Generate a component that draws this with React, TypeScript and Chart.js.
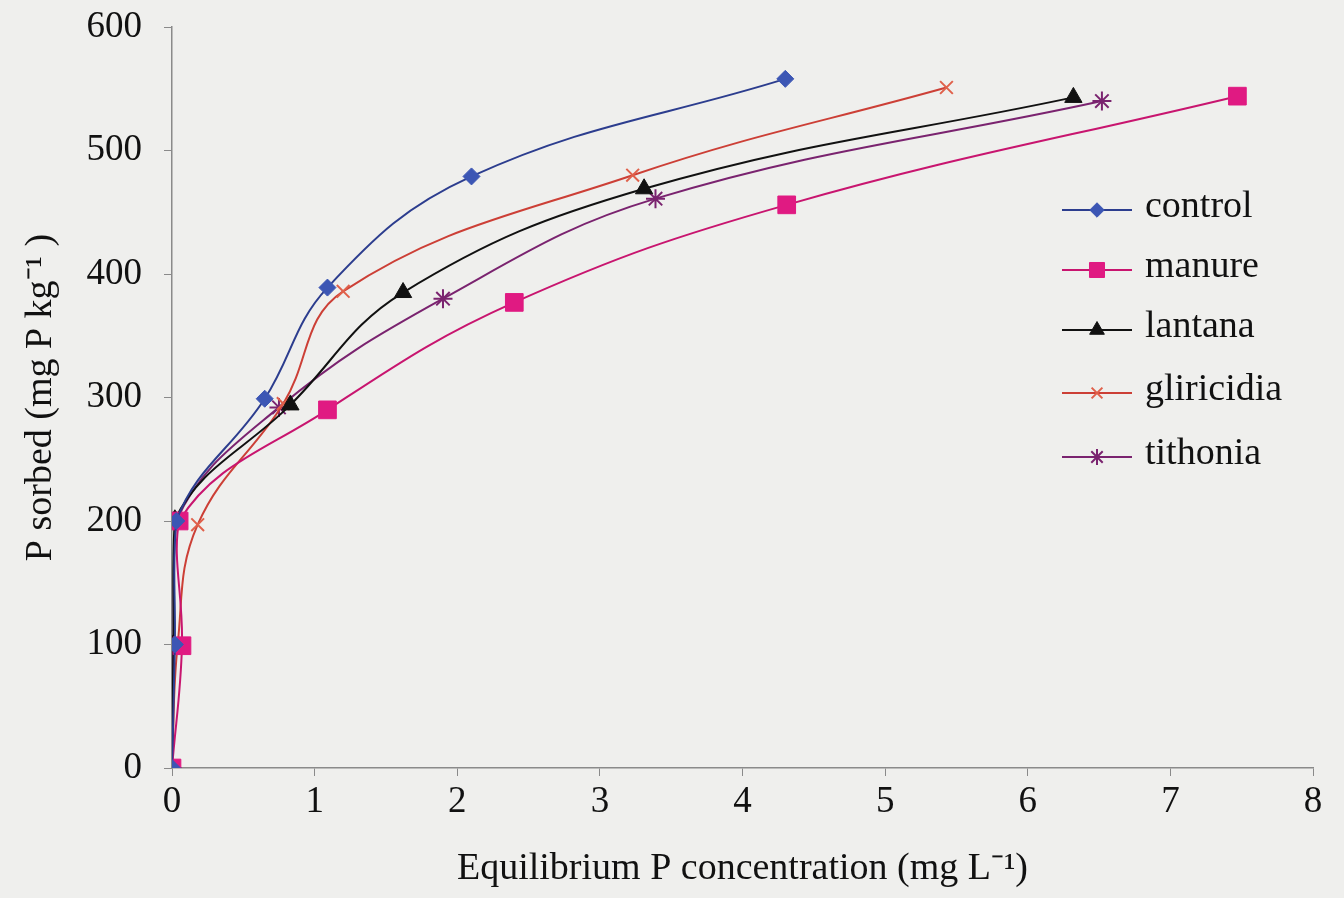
import React, { useEffect, useRef } from "react";
import { Chart, registerables } from "chart.js";
import { drawPoint } from "chart.js/helpers";

Chart.register(...registerables);

const seriesNames = ["control", "manure", "lantana", "gliricidia", "tithonia"];

const controlX = [0, 0.02, 0.03, 0.65, 1.09, 2.1, 4.3];
const controlY = [0, 100, 200, 299, 389, 479, 558];
const manureX = [0, 0.07, 0.05, 1.09, 2.4, 4.31, 7.47];
const manureY = [0, 99, 200, 290, 377, 456, 544];
const lantanaX = [0, 0.01, 0.02, 0.83, 1.62, 3.31, 6.32];
const lantanaY = [0, 100, 201, 294, 385, 469, 543];
const gliricidiaX = [0, 0.04, 0.18, 0.78, 1.2, 3.23, 5.43];
const gliricidiaY = [0, 100, 197, 295, 386, 480, 551];
const tithoniaX = [0, 0.01, 0.03, 0.75, 1.9, 3.39, 6.52];
const tithoniaY = [0, 100, 200, 292, 380, 461, 540];

const xTicks = [0, 1, 2, 3, 4, 5, 6, 7, 8];
const yTicks = [0, 100, 200, 300, 400, 500, 600];

const FONT = "'Liberation Serif', 'Times New Roman', serif";

const zip = (xs: number[], ys: number[]) => xs.map((x, i) => ({ x, y: ys[i] }));

const styles = [
  { line: "#2c3d8e", fill: "#3c56b4", point: "rectRot", r: 8.5 },
  { line: "#c8156f", fill: "#e01a82", point: "rect", r: 12.5 },
  { line: "#111111", fill: "#111111", point: "triangle", r: 10 },
  { line: "#cc3f36", fill: "#e0604a", point: "crossRot", r: 9 },
  { line: "#7a236f", fill: "#7a236f", point: "star", r: 9.5 },
];

const legendPlugin = {
  id: "customLegend",
  afterDraw(chart: any) {
    const ctx = chart.ctx;
    const rows = [210, 270, 330, 393, 457];
    ctx.save();
    chart.data.datasets.forEach((ds: any, i: number) => {
      const y = rows[i];
      ctx.strokeStyle = ds.borderColor;
      ctx.lineWidth = 2;
      ctx.beginPath();
      ctx.moveTo(1062, y);
      ctx.lineTo(1132, y);
      ctx.stroke();
      ctx.fillStyle = ds.pointBackgroundColor;
      ctx.strokeStyle = ds.pointBorderColor;
      ctx.lineWidth = ds.pointBorderWidth;
      drawPoint(ctx, { pointStyle: ds.pointStyle, radius: ds.pointRadius * 0.85, borderWidth: ds.pointBorderWidth, rotation: 0 }, 1097, y);
      ctx.fillStyle = "#111";
      ctx.font = `38px ${FONT}`;
      ctx.textBaseline = "middle";
      ctx.textAlign = "left";
      ctx.fillText(ds.label, 1145, y - 3);
    });
    ctx.restore();
  },
};

export default function App() {
  const ref = useRef<HTMLCanvasElement>(null);
  useEffect(() => {
    if (!ref.current) return;
    const xs = [controlX, manureX, lantanaX, gliricidiaX, tithoniaX];
    const ys = [controlY, manureY, lantanaY, gliricidiaY, tithoniaY];
    const datasets = seriesNames.map((name, i) => ({
      label: name,
      data: zip(xs[i], ys[i]),
      showLine: true,
      tension: 0.4,
      borderColor: styles[i].line,
      borderWidth: 2,
      pointStyle: styles[i].point,
      pointRadius: styles[i].r,
      pointBackgroundColor: styles[i].fill,
      pointBorderColor: styles[i].fill,
      pointBorderWidth: i >= 3 ? 2 : 1,
    }));
    const chart = new Chart(ref.current, {
      type: "scatter",
      data: { datasets },
      options: {
        animation: false,
        responsive: false,
        maintainAspectRatio: false,
        layout: { padding: { top: 27, right: 31, left: 0, bottom: 0 } },
        plugins: { legend: { display: false }, tooltip: { enabled: false } },
        scales: {
          x: {
            type: "linear",
            min: 0,
            max: 8,
            afterBuildTicks: (s: any) => { s.ticks = xTicks.map((v) => ({ value: v })); },
            afterFit: (s: any) => { s.height = 130; s.paddingLeft = 0; s.paddingRight = 0; },
            border: { display: true, color: "#8a8a8a", width: 1.5 },
            grid: { display: true, drawOnChartArea: false, drawTicks: true, tickLength: 8, color: "#8a8a8a" },
            ticks: { color: "#111", font: { family: FONT, size: 37 }, padding: 4, maxRotation: 0 },
            title: {
              display: true,
              text: "Equilibrium P concentration (mg L⁻¹)",
              color: "#111",
              font: { family: FONT, size: 38 },
              padding: { top: 0, bottom: 6 },
            },
          },
          y: {
            type: "linear",
            min: 0,
            max: 600,
            afterBuildTicks: (s: any) => { s.ticks = yTicks.map((v) => ({ value: v })); },
            afterFit: (s: any) => { s.width = 172; s.paddingTop = 0; s.paddingBottom = 0; },
            border: { display: true, color: "#8a8a8a", width: 1.5 },
            grid: { display: true, drawOnChartArea: false, drawTicks: true, tickLength: 8, color: "#8a8a8a" },
            ticks: { color: "#111", font: { family: FONT, size: 37 }, padding: 22 },
            title: {
              display: true,
              text: "P sorbed (mg P kg⁻¹ )",
              color: "#111",
              font: { family: FONT, size: 38 },
              padding: { top: 18, bottom: 0 },
            },
          },
        },
      },
      plugins: [legendPlugin],
    } as any);
    return () => chart.destroy();
  }, []);
  return (
    <div style={{ position: "fixed", left: 0, top: 0, width: 1344, height: 898, background: "#efefed" }}>
      <canvas ref={ref} width={1344} height={898} style={{ width: 1344, height: 898, display: "block" }} />
    </div>
  );
}
